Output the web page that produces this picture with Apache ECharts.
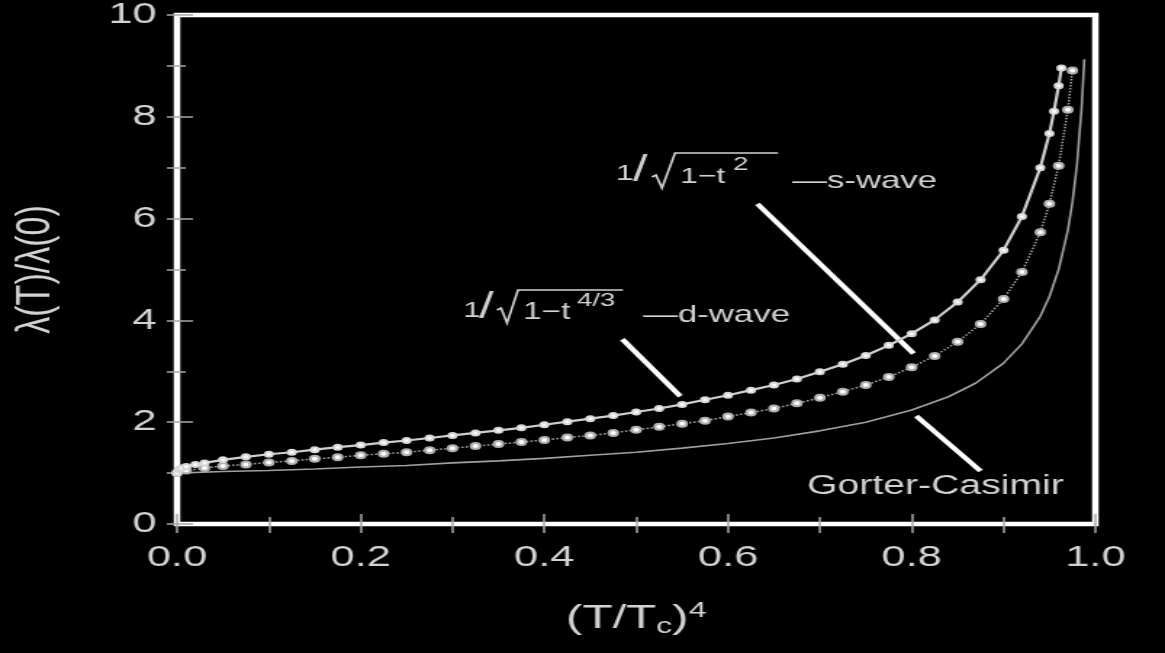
<!DOCTYPE html>
<html>
<head>
<meta charset="utf-8">
<script src="https://cdn.jsdelivr.net/npm/echarts/dist/echarts.min.js"></script>
<style>
html,body{margin:0;padding:0;background:#000;overflow:hidden;width:1165px;height:653px;}
#c{width:803px;height:653px;transform:scaleX(1.45081);transform-origin:0 0;}
</style>
</head>
<body>
<div id="c"></div>
<script>
// ---- data ----
const xTicks = [0.0, 0.2, 0.4, 0.6, 0.8, 1.0];
const yTicks = [0, 2, 4, 6, 8, 10];

const dWaveX = [0, 0.002, 0.005, 0.01, 0.02, 0.03, 0.05, 0.075, 0.1, 0.125, 0.15, 0.175, 0.2, 0.225, 0.25, 0.275, 0.3, 0.325, 0.35, 0.375, 0.4, 0.425, 0.45, 0.475, 0.5, 0.525, 0.55, 0.575, 0.6, 0.625, 0.65, 0.675, 0.7, 0.725, 0.75, 0.775, 0.8, 0.825, 0.85, 0.875, 0.9, 0.92, 0.94, 0.95, 0.955, 0.96, 0.963];
const dWaveY = [1.00, 1.07, 1.10, 1.13, 1.17, 1.20, 1.26, 1.32, 1.37, 1.41, 1.46, 1.51, 1.55, 1.60, 1.64, 1.69, 1.74, 1.79, 1.84, 1.89, 1.95, 2.01, 2.07, 2.13, 2.20, 2.27, 2.35, 2.44, 2.53, 2.63, 2.73, 2.85, 2.99, 3.14, 3.31, 3.51, 3.74, 4.01, 4.36, 4.80, 5.38, 6.04, 7.00, 7.67, 8.11, 8.61, 8.96];

const sWaveX = [0, 0.01, 0.03, 0.05, 0.075, 0.1, 0.125, 0.15, 0.175, 0.2, 0.225, 0.25, 0.275, 0.3, 0.325, 0.35, 0.375, 0.4, 0.425, 0.45, 0.475, 0.5, 0.525, 0.55, 0.575, 0.6, 0.625, 0.65, 0.675, 0.7, 0.725, 0.75, 0.775, 0.8, 0.825, 0.85, 0.875, 0.9, 0.92, 0.94, 0.95, 0.96, 0.97, 0.975];
const sWaveY = [1.00, 1.05, 1.10, 1.14, 1.17, 1.21, 1.24, 1.28, 1.31, 1.35, 1.38, 1.41, 1.45, 1.49, 1.53, 1.57, 1.61, 1.65, 1.70, 1.74, 1.79, 1.85, 1.91, 1.97, 2.03, 2.11, 2.19, 2.27, 2.37, 2.48, 2.60, 2.73, 2.89, 3.08, 3.30, 3.58, 3.93, 4.42, 4.95, 5.73, 6.29, 7.04, 8.14, 8.91];

const gcX = [0, 0.05, 0.1, 0.15, 0.2, 0.25, 0.3, 0.35, 0.4, 0.45, 0.5, 0.55, 0.6, 0.65, 0.7, 0.75, 0.8, 0.84, 0.87, 0.9, 0.92, 0.94, 0.95, 0.96, 0.97, 0.975, 0.98, 0.985, 0.988];
const gcY = [1.00, 1.03, 1.05, 1.08, 1.12, 1.15, 1.20, 1.24, 1.29, 1.35, 1.41, 1.49, 1.58, 1.69, 1.83, 2.00, 2.24, 2.50, 2.77, 3.16, 3.54, 4.08, 4.47, 5.00, 5.77, 6.32, 7.07, 8.16, 9.13];

// pointer lines (data coordinates): [x1, y1, x2, y2]
const pointerD = [0.485, 3.63, 0.548, 2.51];
const pointerS = [0.632, 6.29, 0.802, 3.35];
const pointerG = [0.805, 2.12, 0.875, 1.04];

// ---- chart ----
const S = 1.45081;
const U = px => px / S;
const pairs = (xs, ys) => xs.map((x, i) => [x, ys[i]]);
const seg = p => [{coord: [p[0], p[1]]}, {coord: [p[2], p[3]]}];

const FONT = '"Liberation Sans", Arial, sans-serif';
const TXT = '#d2d2d2';
const TICK = {color: '#a8a8a8', width: 1.5};

function txt(x, y, s, size) {
  return {type: 'text', x: U(x), y: y, style: {text: s, fill: TXT, font: size + 'px ' + FONT, verticalAlign: 'middle'}};
}
function radical(pts) {
  return {type: 'polyline', shape: {points: pts.map(p => [U(p[0]), p[1]])},
          style: {stroke: TXT, lineWidth: 1.6, fill: null}};
}

const chart = echarts.init(document.getElementById('c'), null, {renderer: 'canvas'});
chart.setOption({
  backgroundColor: '#000',
  animation: false,
  grid: {left: 116, right: 48, top: 12, bottom: 129, show: true, borderColor: '#ffffff', borderWidth: 4.5, backgroundColor: 'transparent'},
  xAxis: [{
    type: 'value', min: xTicks[0], max: xTicks[xTicks.length - 1], interval: 0.2, position: 'bottom',
    axisLine: {show: false}, splitLine: {show: false},
    axisTick: {inside: true, length: 10, lineStyle: TICK},
    minorTick: {show: true, splitNumber: 2, length: 7, lineStyle: TICK},
    axisLabel: {color: TXT, fontSize: 30, fontFamily: FONT, margin: 19, formatter: v => v.toFixed(1)},
    name: '(T/T{sub|c}){sup|4}', nameLocation: 'middle', nameGap: 76,
    nameTextStyle: {color: TXT, fontSize: 34, fontFamily: FONT,
      rich: {sub: {fontSize: 22, fontFamily: FONT, color: TXT, padding: [16, 0, 0, 0]},
             sup: {fontSize: 22, fontFamily: FONT, color: TXT, padding: [0, 0, 16, 0]}}}
  }, {
    type: 'value', min: 0, max: 1, interval: 0.1, position: 'top',
    axisLine: {show: false}, splitLine: {show: false}, axisLabel: {show: false},
    axisTick: {inside: true, length: 9, lineStyle: TICK}
  }],
  yAxis: [{
    type: 'value', min: yTicks[0], max: yTicks[yTicks.length - 1], interval: 2, position: 'left',
    axisLine: {show: false}, splitLine: {show: false},
    axisTick: {inside: true, length: 11, lineStyle: TICK},
    minorTick: {show: true, splitNumber: 2, length: 6, lineStyle: TICK},
    axisLabel: {color: TXT, fontSize: 30, fontFamily: FONT, margin: 14},
    name: 'λ(T)/λ(0)', nameLocation: 'middle', nameGap: 80,
    nameTextStyle: {color: TXT, fontSize: 34, fontFamily: FONT}
  }, {
    type: 'value', min: 0, max: 10, interval: 1, position: 'right',
    axisLine: {show: false}, splitLine: {show: false}, axisLabel: {show: false},
    axisTick: {inside: true, length: 7, lineStyle: TICK}
  }],
  series: [{
    name: 'Gorter-Casimir', type: 'line', data: pairs(gcX, gcY), showSymbol: false, symbol: 'none',
    lineStyle: {color: '#a0a0a0', width: 1.6}, z: 3,
    markLine: {silent: true, symbol: ['none', 'none'], label: {show: false},
      lineStyle: {color: '#ffffff', width: 4, type: 'solid'},
      data: [seg(pointerD), seg(pointerS), seg(pointerG)]}
  }, {
    name: 's-wave', type: 'line', data: pairs(sWaveX, sWaveY), symbol: 'emptyCircle', symbolSize: 6,
    itemStyle: {color: '#b0b0b0', borderWidth: 1.2},
    lineStyle: {color: '#a8a8a8', width: 1.5, type: 'dotted'}, z: 4
  }, {
    name: 'd-wave', type: 'line', data: pairs(dWaveX, dWaveY), symbol: 'emptyCircle', symbolSize: 5,
    itemStyle: {color: '#d8d8d8', borderWidth: 1},
    lineStyle: {color: '#cfcfcf', width: 2.2}, z: 5
  }],
  graphic: [
    // s-wave label: 1/√(1−t²) —s-wave
    txt(616, 174, '1', 22),
    txt(633, 171, '/', 36),
    radical([[652, 177], [656, 175], [662, 188], [675, 153], [778, 153]]),
    txt(680, 177, '1−t', 22),
    txt(733, 165, '2', 19),
    txt(792, 181, '—s-wave', 24),
    // d-wave label: 1/√(1−t^(4/3)) —d-wave
    txt(463, 311, '1', 22),
    txt(479, 308, '/', 36),
    radical([[497, 310], [501, 308], [507, 323], [518, 290], [623, 290]]),
    txt(523, 313, '1−t', 23),
    txt(577, 301, '4/3', 19),
    txt(643, 315, '—d-wave', 24),
    // Gorter-Casimir label
    txt(807, 487, 'Gorter-Casimir', 27)
  ]
});
</script>
</body>
</html>
